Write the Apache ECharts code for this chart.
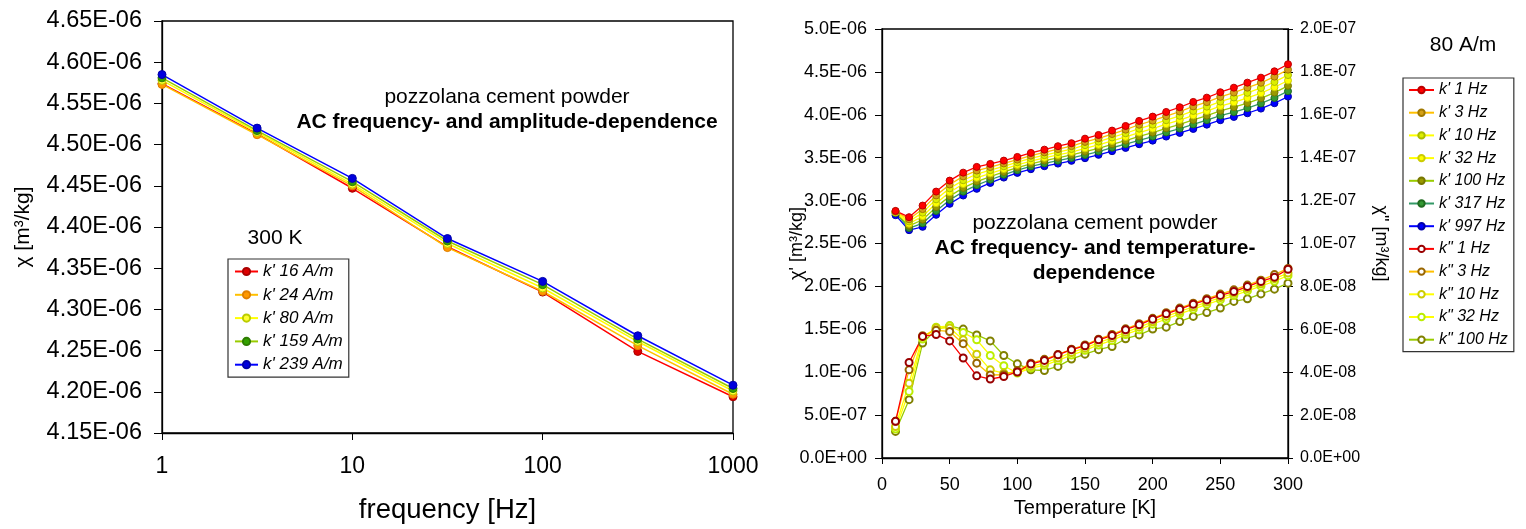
<!DOCTYPE html>
<html>
<head>
<meta charset="utf-8">
<script src="https://cdn.jsdelivr.net/npm/echarts@6/dist/echarts.min.js"></script>
<style>
html,body{margin:0;padding:0;background:#fff;}
#c{width:1526px;height:529px;}
</style>
</head>
<body>
<div id="c"></div>
<script>
// ---------- Left chart data (susceptibility in 1e-6 m3/kg) ----------
const freqs = [1, 3.16, 10, 31.6, 100, 316, 1000];
const k16  = [4.574, 4.513, 4.447, 4.376, 4.321, 4.249, 4.194];
const k24  = [4.573, 4.512, 4.450, 4.375, 4.322, 4.256, 4.197];
const k80  = [4.578, 4.515, 4.452, 4.380, 4.326, 4.261, 4.201];
const k159 = [4.581, 4.517, 4.455, 4.383, 4.330, 4.264, 4.204];
const k239 = [4.585, 4.520, 4.459, 4.386, 4.334, 4.268, 4.208];
const leftNames = ["k' 16 A/m", "k' 24 A/m", "k' 80 A/m", "k' 159 A/m", "k' 239 A/m"];
const freqTicks = ["1", "10", "100", "1000"];

// ---------- Right chart data ----------
const temps = [10,20,30,40,50,60,70,80,90,100,110,120,130,140,150,160,170,180,190,200,210,220,230,240,250,260,270,280,290,300];
// k' in 1e-6 m3/kg
const kp1   = [2.880,2.807,2.942,3.105,3.233,3.326,3.393,3.428,3.466,3.509,3.556,3.594,3.634,3.669,3.722,3.765,3.816,3.870,3.929,3.979,4.033,4.088,4.150,4.200,4.263,4.316,4.375,4.433,4.507,4.589];
const kp3   = [2.875,2.782,2.901,3.060,3.188,3.282,3.350,3.391,3.433,3.478,3.524,3.562,3.600,3.635,3.684,3.726,3.776,3.827,3.884,3.932,3.985,4.038,4.098,4.148,4.209,4.259,4.316,4.373,4.445,4.526];
const kp10  = [2.870,2.757,2.860,3.015,3.143,3.237,3.308,3.354,3.400,3.447,3.493,3.530,3.566,3.601,3.646,3.688,3.736,3.785,3.838,3.886,3.937,3.988,4.045,4.095,4.154,4.202,4.256,4.313,4.383,4.463];
const kp32  = [2.865,2.731,2.818,2.970,3.098,3.193,3.265,3.317,3.367,3.416,3.461,3.498,3.532,3.566,3.608,3.649,3.696,3.742,3.793,3.839,3.890,3.939,3.993,4.043,4.100,4.145,4.197,4.252,4.321,4.400];
const kp100 = [2.860,2.706,2.777,2.924,3.052,3.148,3.222,3.280,3.334,3.385,3.429,3.466,3.499,3.532,3.570,3.610,3.656,3.699,3.748,3.792,3.842,3.889,3.940,3.990,4.046,4.089,4.137,4.192,4.259,4.338];
const kp317 = [2.855,2.680,2.735,2.879,3.007,3.104,3.180,3.243,3.301,3.354,3.398,3.433,3.465,3.497,3.532,3.572,3.616,3.657,3.702,3.746,3.794,3.839,3.888,3.938,3.991,4.032,4.078,4.132,4.197,4.275];
const kp997 = [2.830,2.655,2.694,2.834,2.962,3.059,3.137,3.206,3.268,3.323,3.366,3.401,3.431,3.463,3.494,3.533,3.576,3.614,3.657,3.699,3.746,3.789,3.835,3.885,3.937,3.975,4.018,4.072,4.135,4.212];
// k" in 1e-8 m3/kg
const kpp1   = [1.71,4.45,5.67,5.76,5.46,4.66,3.83,3.68,3.80,4.01,4.38,4.55,4.81,5.05,5.23,5.51,5.71,5.98,6.21,6.47,6.72,6.94,7.17,7.37,7.58,7.76,7.99,8.23,8.43,8.80];
const kpp3   = [1.71,4.11,5.70,5.95,5.90,5.33,4.42,3.87,3.88,4.07,4.42,4.60,4.83,5.07,5.27,5.54,5.76,6.02,6.26,6.51,6.77,6.99,7.22,7.43,7.64,7.84,8.06,8.29,8.55,8.84];
const kpp10  = [1.47,3.49,5.64,6.06,6.06,5.51,4.84,4.11,3.96,4.01,4.27,4.42,4.66,4.92,5.12,5.38,5.60,5.86,6.10,6.35,6.60,6.83,7.05,7.27,7.48,7.68,7.90,8.12,8.36,8.62];
const kpp32  = [1.35,3.10,5.55,6.10,6.16,5.85,5.51,4.78,4.30,3.96,4.19,4.32,4.55,4.80,5.02,5.27,5.48,5.76,5.98,6.24,6.48,6.72,6.94,7.16,7.37,7.57,7.79,8.01,8.24,8.50];
const kpp100 = [1.24,2.72,5.36,5.98,6.16,6.01,5.74,5.46,4.78,4.39,4.11,4.08,4.27,4.61,4.84,5.05,5.20,5.56,5.74,6.01,6.10,6.36,6.60,6.78,6.99,7.30,7.42,7.65,7.87,8.15];
const rightNames = ["k' 1 Hz","k' 3 Hz","k' 10 Hz","k' 32 Hz","k' 100 Hz","k' 317 Hz","k' 997 Hz",
                    'k" 1 Hz','k" 3 Hz','k" 10 Hz','k" 32 Hz','k" 100 Hz'];

const FONT = '"Liberation Sans", Arial, Helvetica, sans-serif';

function sci(x, d) {
  if (Math.abs(x) < 1e-30) return (0).toFixed(d) + 'E+00';
  const s = x.toExponential(d);
  const parts = s.split('e');
  const ex = parseInt(parts[1], 10);
  const sign = ex < 0 ? '-' : '+';
  const n = Math.abs(ex);
  return parts[0] + 'E' + sign + (n < 10 ? '0' : '') + n;
}

function pairs(xs, ys) { return xs.map((x, i) => [x, ys[i]]); }

function ser(name, xs, ys, lineColor, fill, border, size, xi, yi, empty, lw) {
  return {
    name: name, type: 'line', xAxisIndex: xi, yAxisIndex: yi,
    data: pairs(xs, ys),
    symbol: empty ? 'emptyCircle' : 'circle',
    symbolSize: size,
    showSymbol: true,
    lineStyle: { color: lineColor, width: lw },
    itemStyle: { color: empty ? border : fill, borderColor: border, borderWidth: 1 },
    emphasis: { disabled: true },
    animation: false
  };
}

const chart = echarts.init(document.getElementById('c'), null, { renderer: 'canvas' });

const series = [
  ser(leftNames[0], freqs, k16,  '#FF0000', '#DD0000', '#AA0000', 8, 0, 0, false, 1.5),
  ser(leftNames[1], freqs, k24,  '#FFC000', '#FF9900', '#E08000', 8, 0, 0, false, 1.5),
  ser(leftNames[2], freqs, k80,  '#FFFF00', '#FFFF33', '#BBCC00', 8, 0, 0, false, 1.5),
  ser(leftNames[3], freqs, k159, '#99CC00', '#33A000', '#2E7D00', 8, 0, 0, false, 1.5),
  ser(leftNames[4], freqs, k239, '#0000FF', '#0000DD', '#0000AA', 8, 0, 0, false, 1.5),

  ser(rightNames[11], temps, kpp100, '#99CC00', '#fff', '#808000', 7, 1, 2, true, 1.3),
  ser(rightNames[10], temps, kpp32,  '#FFFF00', '#fff', '#BBEE00', 7, 1, 2, true, 1.3),
  ser(rightNames[9],  temps, kpp10,  '#FFFF00', '#fff', '#CCCC00', 7, 1, 2, true, 1.3),
  ser(rightNames[8],  temps, kpp3,   '#FFC000', '#fff', '#996600', 7, 1, 2, true, 1.3),
  ser(rightNames[7],  temps, kpp1,   '#FF0000', '#fff', '#990000', 7, 1, 2, true, 1.3),

  ser(rightNames[6], temps, kp997, '#0000FF', '#0000FF', '#0000AA', 7, 1, 1, false, 1.3),
  ser(rightNames[5], temps, kp317, '#339966', '#339933', '#1F6B1F', 7, 1, 1, false, 1.3),
  ser(rightNames[4], temps, kp100, '#99CC00', '#999900', '#777700', 7, 1, 1, false, 1.3),
  ser(rightNames[3], temps, kp32,  '#FFFF00', '#FFFF00', '#CCCC00', 7, 1, 1, false, 1.3),
  ser(rightNames[2], temps, kp10,  '#FFFF00', '#DDEE00', '#AABB00', 7, 1, 1, false, 1.3),
  ser(rightNames[1], temps, kp3,   '#FFC000', '#D4A017', '#A07800', 7, 1, 1, false, 1.3),
  ser(rightNames[0], temps, kp1,   '#FF0000', '#FF0000', '#BB0000', 7, 1, 1, false, 1.3)
];

const axisLine = { show: true, lineStyle: { color: '#000', width: 1.3 } };

function txt(x, y, s, bold) {
  return { type: 'text', x: x, y: y, z: 100,
    style: { text: s, align: 'center', verticalAlign: 'middle', font: (bold ? 'bold ' : '') + '21px ' + FONT, fill: '#000' } };
}

const option = {
  animation: false,
  backgroundColor: '#fff',
  textStyle: { fontFamily: FONT, color: '#000' },
  grid: [
    { left: 162, top: 21, width: 571, height: 412, show: true, borderColor: '#000', borderWidth: 1.3, backgroundColor: 'transparent' },
    { left: 882, top: 29, width: 406, height: 429, show: true, borderColor: '#000', borderWidth: 1.3, backgroundColor: 'transparent' }
  ],
  xAxis: [
    {
      gridIndex: 0, type: 'log', logBase: 10, min: 1, max: 1000,
      axisLine: axisLine,
      axisTick: { show: true, length: 7, lineStyle: { color: '#000' } },
      minorTick: { show: false },
      splitLine: { show: false },
      axisLabel: { fontSize: 23, color: '#000', fontFamily: FONT, margin: 22,
        formatter: function (v) { const i = Math.round(Math.log10(v)); return freqTicks[i] !== undefined ? freqTicks[i] : ''; } },
      name: 'frequency [Hz]', nameLocation: 'middle', nameGap: 63,
      nameTextStyle: { fontSize: 27.5, color: '#000', fontFamily: FONT }
    },
    {
      gridIndex: 1, type: 'value', min: 0, max: 300, interval: 50,
      axisLine: axisLine,
      axisTick: { show: true, length: 6, lineStyle: { color: '#000' } },
      splitLine: { show: false },
      axisLabel: { fontSize: 18, color: '#000', fontFamily: FONT, margin: 18 },
      name: 'Temperature [K]', nameLocation: 'middle', nameGap: 39,
      nameTextStyle: { fontSize: 20, color: '#000', fontFamily: FONT }
    }
  ],
  yAxis: [
    {
      gridIndex: 0, type: 'value', min: 4.15, max: 4.65, interval: 0.05,
      axisLine: axisLine,
      axisTick: { show: true, length: 8, lineStyle: { color: '#000' } },
      splitLine: { show: false },
      axisLabel: { fontSize: 23.5, color: '#000', fontFamily: FONT, margin: 20,
        formatter: function (v) { return sci(v * 1e-6, 2); } },
      name: 'χ [m³/kg]', nameLocation: 'middle', nameGap: 128, nameRotate: 90,
      nameTextStyle: { fontSize: 21, color: '#000', fontFamily: FONT }
    },
    {
      gridIndex: 1, type: 'value', min: 0, max: 5, interval: 0.5, position: 'left',
      axisLine: axisLine,
      axisTick: { show: true, length: 7, lineStyle: { color: '#000' } },
      splitLine: { show: false },
      axisLabel: { fontSize: 18, color: '#000', fontFamily: FONT, margin: 15,
        formatter: function (v) { return sci(v * 1e-6, 1); } },
      name: "χ' [m³/kg]", nameLocation: 'middle', nameGap: 76, nameRotate: 90,
      nameMoveOverlap: false,
      nameTextStyle: { fontSize: 18, color: '#000', fontFamily: FONT }
    },
    {
      gridIndex: 1, type: 'value', min: 0, max: 20, interval: 2, position: 'right',
      axisLine: axisLine,
      axisTick: { show: true, length: 5, lineStyle: { color: '#000' } },
      splitLine: { show: false },
      axisLabel: { fontSize: 16, color: '#000', fontFamily: FONT, margin: 12,
        formatter: function (v) { return sci(v * 1e-8, 1); } },
      name: 'χ" [m³/kg]', nameLocation: 'middle', nameGap: 84, nameRotate: -90,
      nameTextStyle: { fontSize: 18, color: '#000', fontFamily: FONT }
    },
    {
      gridIndex: 1, type: 'value', min: 0, max: 20, interval: 2, position: 'right',
      axisLine: { show: false },
      axisTick: { show: true, inside: true, length: 5, lineStyle: { color: '#000' } },
      splitLine: { show: false },
      axisLabel: { show: false }
    }
  ],
  legend: [
    {
      data: leftNames, orient: 'vertical', left: 228, top: 259,
      itemWidth: 23, itemHeight: 9, itemGap: 6.3,
      padding: [4, 6, 4, 6],
      borderColor: '#333', borderWidth: 1.2, backgroundColor: '#fff',
      selectedMode: false,
      textStyle: { fontSize: 17, fontStyle: 'italic', color: '#000', fontFamily: FONT }
    },
    {
      data: rightNames, orient: 'vertical', left: 1403, top: 78,
      itemWidth: 25, itemHeight: 8, itemGap: 6.7,
      padding: [4, 6, 4, 5],
      borderColor: '#333', borderWidth: 1.2, backgroundColor: '#fff',
      selectedMode: false,
      textStyle: { fontSize: 16, fontStyle: 'italic', color: '#000', fontFamily: FONT }
    }
  ],
  graphic: [
    txt(507, 97, 'pozzolana cement powder', false),
    txt(507, 122, 'AC frequency- and amplitude-dependence', true),
    txt(275, 238, '300 K', false),
    txt(1095, 223, 'pozzolana cement powder', false),
    txt(1095, 248, 'AC frequency- and temperature-', true),
    txt(1094, 273, 'dependence', true),
    txt(1463, 45, '80 A/m', false)
  ],
  series: series
};

chart.setOption(option);
</script>
</body>
</html>
